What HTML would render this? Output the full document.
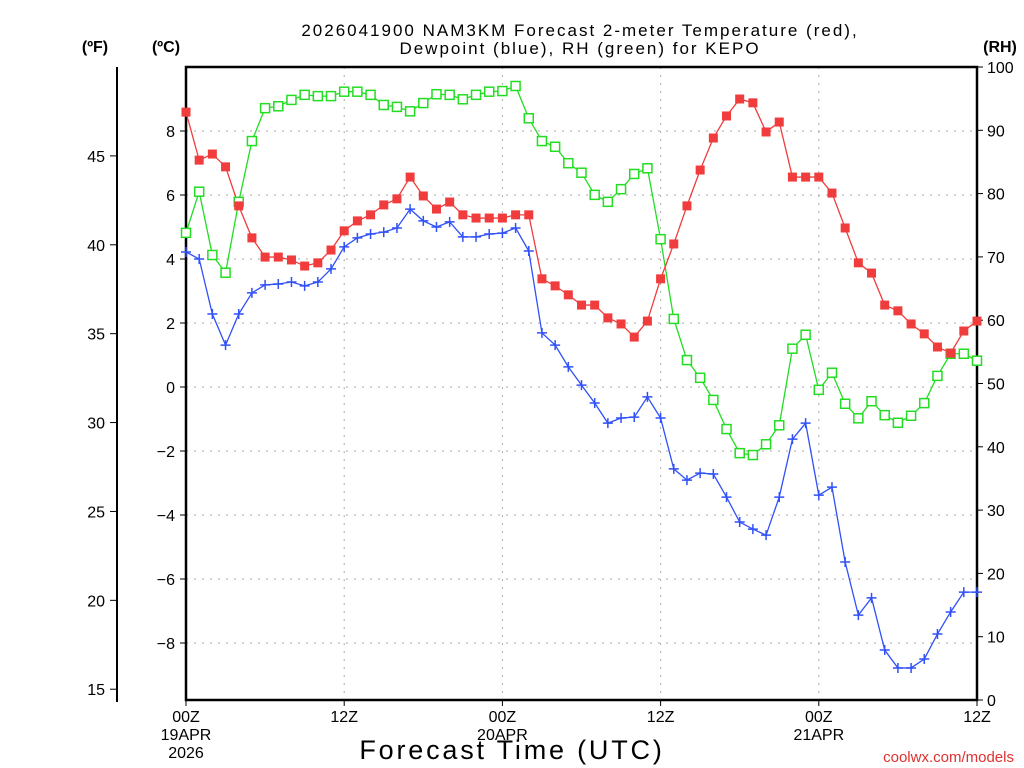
<!DOCTYPE html>
<html><head><meta charset="utf-8"><style>
html,body{margin:0;padding:0;background:#fff;width:1024px;height:768px;overflow:hidden}
svg{display:block;font-family:"Liberation Sans",sans-serif}
</style></head><body>
<svg id="chart" width="1024" height="768" viewBox="0 0 1024 768" xmlns="http://www.w3.org/2000/svg">
<g id="grid"></g>
<g id="axes"></g>
<g id="series"></g>
<text x="580" y="36" font-size="17" text-anchor="middle" letter-spacing="2">2026041900 NAM3KM Forecast 2-meter Temperature (red),</text>
<text x="580" y="54" font-size="17" text-anchor="middle" letter-spacing="2">Dewpoint (blue), RH (green) for KEPO</text>
<text x="95" y="52" font-size="16" font-weight="bold" text-anchor="middle">(ºF)</text>
<text x="166" y="52" font-size="16" font-weight="bold" text-anchor="middle">(ºC)</text>
<text x="1000" y="52" font-size="16" font-weight="bold" text-anchor="middle">(RH)</text>
<text x="512" y="759" font-size="27" text-anchor="middle" letter-spacing="2.8">Forecast Time (UTC)</text>
<text x="1014" y="762" font-size="15" fill="#e03030" text-anchor="end">coolwx.com/models</text>
</svg>
<script>
const hours = [0,1,2,3,4,5,6,7,8,9,10,11,12,13,14,15,16,17,18,19,20,21,22,23,24,25,26,27,28,29,30,31,32,33,34,35,36,37,38,39,40,41,42,43,44,45,46,47,48,49,50,51,52,53,54,55,56,57,58,59,60];
const tempC = [8.59,7.09,7.28,6.88,5.66,4.66,4.06,4.06,3.97,3.78,3.88,4.28,4.88,5.19,5.38,5.69,5.88,6.56,5.97,5.56,5.78,5.38,5.28,5.28,5.28,5.38,5.38,3.38,3.16,2.88,2.56,2.56,2.16,1.97,1.56,2.06,3.38,4.47,5.66,6.78,7.78,8.47,9.0,8.88,7.97,8.28,6.56,6.56,6.56,6.06,4.97,3.88,3.56,2.56,2.38,1.97,1.66,1.25,1.06,1.75,2.06];
const dewC = [4.22,4.0,2.28,1.31,2.28,2.94,3.19,3.22,3.28,3.16,3.28,3.69,4.38,4.66,4.78,4.84,4.97,5.56,5.19,5.0,5.16,4.69,4.69,4.78,4.81,4.97,4.25,1.69,1.31,0.63,0.06,-0.5,-1.13,-0.97,-0.94,-0.31,-0.97,-2.56,-2.91,-2.69,-2.72,-3.44,-4.22,-4.44,-4.63,-3.44,-1.63,-1.13,-3.38,-3.13,-5.47,-7.13,-6.59,-8.22,-8.78,-8.78,-8.5,-7.72,-7.03,-6.41,-6.41];
const rh = [73.8,80.3,70.3,67.5,78.7,88.3,93.5,93.8,94.8,95.6,95.4,95.4,96.1,96.1,95.6,94.0,93.7,93.0,94.3,95.7,95.6,94.9,95.6,96.1,96.2,97.0,91.9,88.3,87.4,84.8,83.3,79.8,78.7,80.7,83.1,84.0,72.8,60.2,53.7,50.9,47.4,42.8,39.0,38.7,40.4,43.4,55.5,57.7,49.0,51.7,46.8,44.5,47.2,45.0,43.8,44.9,46.9,51.2,54.7,54.7,53.6];
const cTicks = [-8,-6,-4,-2,0,2,4,6,8];
const fTicks = [15,20,25,30,35,40,45];
const rhTicks = [0,10,20,30,40,50,60,70,80,90,100];
const xTickHours = [0,12,24,36,48,60];
const xTickLabels = [["00Z","19APR","2026"],["12Z"],["00Z","20APR"],["12Z"],["00Z","21APR"],["12Z"]];

const L=186,R=977,T=67,B=700;
const xS=h=>L+(R-L)*h/60;
const yC=c=>387-32*c;
const yF=f=>yC((f-32)*5/9);
const yRH=v=>B-(B-T)*v/100;
const NS="http://www.w3.org/2000/svg";
function mk(tag,attrs,parent,text){const e=document.createElementNS(NS,tag);for(const k in attrs)e.setAttribute(k,attrs[k]);if(text!==undefined)e.textContent=text;parent.appendChild(e);return e;}
const grid=document.getElementById('grid'),axes=document.getElementById('axes'),ser=document.getElementById('series');

cTicks.forEach(c=>{const y=yC(c);
 const g=mk('line',{x1:L,x2:R,y1:y,y2:y,stroke:'#aaa','stroke-dasharray':'2,6'},grid);
 
 
 mk('line',{x1:L-6,x2:L,y1:y,y2:y,stroke:'#000'},axes);
 const t=mk('text',{x:L-11,y:y+6,'font-size':16,'text-anchor':'end'},axes,c<0?'\u2212'+(-c):String(c));
 
 
});
fTicks.forEach(f=>{const y=yF(f);
 mk('line',{x1:110,x2:117,y1:y,y2:y,stroke:'#000'},axes);
 const t=mk('text',{x:105,y:y+6,'font-size':16,'text-anchor':'end'},axes,String(f));
 
 
});
rhTicks.forEach(v=>{const y=yRH(v);
 mk('line',{x1:R,x2:R+6,y1:y,y2:y,stroke:'#000'},axes);
 const t=mk('text',{x:R+10,y:y+6,'font-size':16,'text-anchor':'start'},axes,String(v));
 
 
});
xTickHours.forEach((h,i)=>{const x=xS(h);
 if(h>0&&h<60){const g=mk('line',{x1:x,x2:x,y1:T,y2:B,stroke:'#aaa','stroke-dasharray':'2,6'},grid);
  
  }
 mk('line',{x1:x,x2:x,y1:B,y2:B+6,stroke:'#000'},axes);
 xTickLabels[i].forEach((s,j)=>{const t=mk('text',{x:x,y:B+22+j*18,'font-size':16,'text-anchor':'middle'},axes,s);
  
  });
});
mk('line',{x1:117,x2:117,y1:67,y2:702,stroke:'#000','stroke-width':2},axes);
const fr=mk('rect',{x:L,y:T,width:R-L,height:B-T,fill:'none',stroke:'#000','stroke-width':2.5},axes);



function line(vals,yf,color,name){const pts=vals.map((v,i)=>xS(hours[i])+','+yf(v)).join(' ');
 const p=mk('polyline',{points:pts,fill:'none',stroke:color,'stroke-width':1.3},ser);
 
 }
line(rh,yRH,'#22dd22','rh');
line(tempC,yC,'#f03c3c','temperature');
line(dewC,yC,'#3050f8','dewpoint');
rh.forEach((v,i)=>{const m=mk('rect',{x:xS(hours[i])-4.5,y:yRH(v)-4.5,width:9,height:9,fill:'#fff',stroke:'#22dd22','stroke-width':1.5},ser);
 
 });
tempC.forEach((v,i)=>{const m=mk('rect',{x:xS(hours[i])-4.5,y:yC(v)-4.5,width:9,height:9,fill:'#f03c3c'},ser);
 
 });
dewC.forEach((v,i)=>{const x=xS(hours[i]),y=yC(v);
 const m=mk('path',{d:`M${x-5},${y}H${x+5}M${x},${y-5}V${y+5}`,stroke:'#3050f8','stroke-width':1.5},ser);
 
 });
</script>
</body></html>
